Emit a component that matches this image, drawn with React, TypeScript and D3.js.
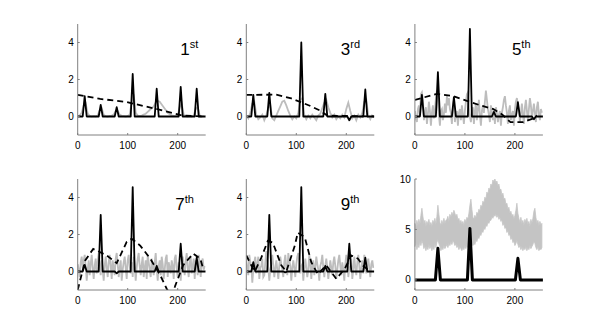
import React from "react";
import * as d3 from "d3";

// ticks
const xTicks = [0, 100, 200];
const yTicksSmall = [0, 2, 4];
const yTicksBig = [0, 5, 10];

// iteration labels
const labels = [
  ["1", "st"],
  ["3", "rd"],
  ["5", "th"],
  ["7", "th"],
  ["9", "th"],
];
const labelX = [205, 189, 194, 195, 189];

// spike locations and heights of the estimate, per iteration
const spikePos = [14, 46, 78, 110, 158, 206, 238];
const spikes1 = [1.1, 0.63, 0.5, 2.3, 1.5, 1.6, 1.5];
const spikes3 = [1.17, 1.28, 0, 4.0, 1.22, -0.2, 1.46];
const spikes5 = [1.17, 2.4, 1.05, 4.74, 0.25, 0.78, -0.15];
const spikes7 = [0.36, 3.06, -0.1, 4.56, 0.3, 1.5, 0.75];
const spikes9 = [0.5, 3.06, -0.05, 4.56, 0.3, 1.5, 0.75];

// true signal
const truePos = [46, 110, 206];
const trueHeights = [3.13, 5.1, 2.14];

// baseline estimates (dashed)
const dashed1 = [[0, 1.17], [45, 0.95], [98, 0.78], [151, 0.45], [191, 0.18], [210, 0.05], [256, 0]];
const dashed3 = [[0, 1.17], [60, 1.18], [90, 0.98], [127, 0.58], [147, 0.33], [162, 0.05], [256, 0]];
const dashed5 = [[0, 0.9], [44, 1.22], [77, 1.1], [104, 0.85], [131, 0.6], [157, 0.4], [175, 0.1], [191, -0.3], [217, -0.3], [237, -0.1], [244, 0.05]];
const dashed7 = [[0, -1.0], [15, 0.6], [31, 1.22], [58, 0.87], [78, 0.45], [98, 1.6], [108, 1.77], [125, 1.4], [145, 0.7], [165, -0.2], [178, -0.93], [186, -1.3], [194, -0.84], [211, 0.34], [231, 0.97], [245, 0.7], [251, 0.15]];
const dashed9 = [[0, 0.87], [10, 0.33], [17, 0], [30, 0.75], [43, 1.65], [53, 1.56], [70, 0.33], [80, 0], [97, 1.4], [103, 2.1], [117, 1.85], [130, 0.5], [143, -0.14], [160, 0.33], [180, -0.4], [197, 0.15], [210, 0.87], [223, 0.7], [233, 0.33], [247, 0]];

// residual data (grey); 1st and 3rd sampled every 4 points, the rest every 2
const grey1 = [0.02, 0.05, 0.2, 0.6, 0.7, 0.15, 0.03, 0, 0.02, 0, 0.05, 0.35, 0.45, 0.1, 0.02, 0, 0.03, 0.05, 0.1, 0.3, 0.3, 0.1, 0.04, 0.02, 0, 0.03, 0.1, 0.8, 1.2, 0.2, 0.05, 0.03, 0.05, 0.1, 0.15, 0.25, 0.35, 0.45, 0.55, 0.75, 0.85, 0.8, 0.65, 0.5, 0.35, 0.2, 0.12, 0.06, 0.03, 0.02, 0.05, 0.5, 0.7, 0.1, 0.02, 0, 0.02, 0, 0.05, 0.4, 0.5, 0.05, 0, 0.02];
const grey3 = [0.05, -0.1, 0.2, 0.7, 0.8, 0.1, -0.15, -0.05, 0.1, -0.2, 0.05, 0.5, 0.6, -0.1, -0.2, 0.05, 0.3, 0.55, 0.8, 0.85, 0.6, 0.3, 0.05, -0.15, 0, -0.1, 0.2, 0.9, 1.0, 0.1, -0.15, 0.05, -0.1, 0.1, -0.05, -0.2, 0.05, 0.15, 0.45, 0.75, 0.9, 0.5, 0.2, -0.05, 0.1, -0.15, 0, -0.1, 0.1, -0.05, 0.4, 0.75, 0.3, -0.1, 0.05, -0.2, 0.1, -0.05, 0.2, 0.8, 0.9, 0.05, -0.15, 0.1];
const grey5 = [
  0.3, -0.1, -0.3, 0.4, 0.6, 0.1, 1.2, 1.3, 0.9, -0.2, 0.2, 0.5, -0.4, 0.1, 0.8, 0.3,
  -0.5, 0.2, 0.6, -0.1, 0.3, 1.0, 1.4, 0.8, 0.1, -0.5, 0.3, 0.4, -0.2, 0.1, 0.7, 0.2,
  1.1, 0.6, 1.0, 0.4, 0.2, -0.4, 0.6, 0.9, -0.3, 0.1, 0.3, -0.5, 0.2, 0.4, -0.2, 0.6,
  0.1, -0.4, 0.3, 0.8, 1.2, 1.3, 0.5, 0.0, -0.3, 0.2, 0.5, -0.4, 0.3, 0.7, -0.2, 0.4,
  0.9, 0.1, -0.5, 0.3, 0.6, 0.2, 0.8, 1.4, 0.9, 0.4, 0.1, -0.3, 0.6, 0.2, -0.2, 0.4,
  -0.4, 0.5, 0.2, -0.3, 0.1, 0.3, -0.5, 0.2, 0.5, 0.9, 1.1, 0.6, 0.2, -0.4, 0.3, 0.6,
  -0.2, 0.1, 0.3, -0.5, 0.4, 0.8, 1.0, 0.6, 0.3, -0.3, 0.2, 0.7, 0.1, -0.4, 0.5, 0.9,
  0.3, -0.2, 0.4, 1.0, 0.6, -0.1, 0.3, 0.7, 0.2, -0.3, 0.5, 0.8, 0.1, -0.2, 0.4, 0.2,
];
const grey7 = [
  0.4, 0.1, -0.3, 0.5, 0.8, 0.2, 0.6, 0.9, 0.3, -0.5, 0.1, 0.6, -0.2, 0.4, 0.9, 0.2,
  -0.4, 0.3, 0.7, -0.1, 0.5, 1.0, 0.4, -0.2, 0.6, 0.1, -0.5, 0.3, 0.8, 0.2, -0.3, 0.5,
  0.9, 0.3, -0.4, 0.6, 0.2, -0.2, 0.7, 1.0, 0.4, -0.3, 0.2, 0.6, -0.5, 0.1, 0.5, 0.8,
  0.2, -0.4, 0.6, 0.9, 0.3, -0.1, 0.5, -0.3, 0.8, 0.4, -0.5, 0.2, 0.7, 1.0, 0.3, -0.2,
  0.4, 0.8, -0.3, 0.2, 0.6, -0.4, 0.9, 0.5, 0.1, -0.3, 0.7, 0.3, -0.2, 0.5, 1.0, 0.2,
  -0.5, 0.3, 0.6, -0.2, 0.8, 0.4, -0.4, 0.1, 0.7, 0.9, -0.3, 0.5, 0.2, -0.1, 0.6, 0.3,
  -0.4, 0.7, 0.9, 0.2, -0.3, 0.5, 0.1, -0.5, 0.4, 0.8, 0.3, -0.2, 0.6, 1.0, 0.2, -0.3,
  0.5, 0.8, -0.1, 0.3, 0.7, -0.4, 0.6, 0.2, -0.2, 0.9, 0.4, -0.3, 0.5, 0.7, 0.1, 0.3,
];
const grey9 = [
  0.6, 0.2, -0.2, 0.9, 0.5, 0.3, -0.6, 0.1, 0.5, 0.8, -0.1, 0.4, 0.8, -0.4, 0.2, 0.3,
  0.7, -0.3, -0.2, 0.5, 1.1, 0.6, 0.2, -0.5, 0.1, 0.4, 0.9, 0.3, -0.3, 0.2, 0.6, 0.1,
  -0.4, 0.3, 0.8, 0.4, 0.1, -0.3, 0.5, 0.9, 0.2, -0.2, 1.0, 0.6, 0.3, -0.5, 0.2, 0.6,
  0.2, -0.3, 0.4, 0.8, 1.0, 0.5, -0.1, 0.3, 0.4, -0.5, 0.2, 0.7, 0.2, -0.3, 0.1, 0.9,
  0.4, -0.4, 0.3, 0.6, -0.2, 0.2, 0.8, 0.4, 0.1, -0.5, 0.3, 0.5, 0.9, 0.2, -0.3, 0.3,
  0.7, 0.2, -0.4, 0.1, 0.6, 0.2, -0.2, 0.5, 0.8, 0.3, -0.4, 0.1, 0.6, 0.9, 0.3, -0.2,
  0.5, 0.1, -0.5, 0.4, 0.9, 0.6, -0.3, 0.2, 0.3, 0.7, -0.4, 0.1, 0.8, 0.2, -0.2, 0.5,
  0.9, 0.3, -0.4, 0.2, 0.6, -0.1, 0.9, 0.3, -0.1, 0.4, 0.7, 0.2, -0.3, 0.4, 0.6, 0.2,
];

// noisy observations envelope (last panel), every 2 points
const bandUpper = [
  5.6, 5.2, 5.9, 5.4, 6.0, 5.5, 6.4, 7.1, 6.3, 5.6, 5.9, 5.3, 5.8, 5.5, 6.0, 5.4,
  5.7, 5.3, 5.9, 5.6, 6.1, 5.5, 6.3, 7.4, 6.5, 5.7, 5.4, 5.9, 5.5, 6.1, 5.6, 5.9,
  6.0, 6.3, 5.8, 6.5, 6.2, 6.7, 6.4, 6.9, 6.6, 6.3, 6.5, 5.9, 6.1, 5.6, 5.9, 5.5,
  5.8, 5.4, 6.0, 5.7, 6.2, 6.0, 6.6, 7.4, 8.0, 7.0, 6.2, 6.0, 6.4, 6.1, 6.7, 6.5,
  7.0, 6.8, 7.4, 7.2, 7.8, 7.6, 8.2, 8.0, 8.7, 8.5, 9.1, 8.9, 9.5, 9.3, 9.9, 9.7,
  10.0, 9.6, 9.8, 9.3, 9.5, 8.9, 9.0, 8.4, 8.6, 8.0, 8.1, 7.5, 7.6, 7.0, 7.2, 6.6,
  6.8, 6.3, 6.5, 6.0, 6.4, 6.9, 7.6, 6.6, 6.1, 5.7, 6.2, 5.6, 5.9, 5.4, 6.0, 5.7,
  6.1, 5.5, 5.8, 5.3, 6.0, 5.6, 6.1, 6.8, 7.1, 6.2, 5.6, 5.9, 5.4, 5.8, 5.5, 5.6,
];
const bandLower = [
  3.3, 3.7, 3.0, 3.5, 3.2, 3.8, 3.4, 3.9, 3.6, 3.1, 3.4, 2.9, 3.3, 3.0, 3.5, 3.1,
  3.4, 2.9, 3.3, 3.0, 3.6, 3.2, 3.7, 4.0, 3.6, 3.3, 2.9, 3.2, 3.0, 3.4, 3.1, 3.3,
  3.5, 3.2, 3.6, 3.4, 3.8, 3.5, 3.9, 3.7, 3.4, 3.6, 3.2, 3.4, 3.0, 3.3, 3.1, 2.9,
  3.2, 3.0, 3.4, 3.1, 3.5, 3.2, 3.7, 4.0, 4.2, 3.8, 3.4, 3.6, 3.5, 3.9, 3.8, 4.2,
  4.1, 4.5, 4.4, 4.8, 4.7, 5.1, 5.0, 5.4, 5.3, 5.7, 5.6, 5.9, 5.9, 6.2, 6.1, 6.4,
  6.3, 6.5, 6.2, 6.4, 6.0, 6.2, 5.8, 5.9, 5.4, 5.6, 5.1, 5.2, 4.7, 4.9, 4.4, 4.5,
  4.0, 4.2, 3.7, 3.8, 3.4, 3.6, 3.9, 3.5, 3.2, 3.4, 3.0, 3.3, 2.9, 3.2, 3.0, 3.3,
  2.9, 3.2, 3.0, 3.4, 3.1, 3.3, 3.5, 3.8, 3.6, 3.2, 3.0, 3.3, 2.9, 3.1, 3.0, 3.2,
];
const bandStep = 2;

const colLeft = [77.7, 246.3, 414.9];
const rowTop = [24, 179];
const plotW = 128;
const plotH = 111;
const font = "'Liberation Sans', Arial, Helvetica, sans-serif";

const stemLine = (pos, heights, half) => {
  const pts = [[0, 0]];
  pos.forEach((p, i) => {
    pts.push([p - half, 0], [p, heights[i]], [p + half, 0]);
  });
  pts.push([256, 0]);
  return pts;
};

const panels = [
  { grey: grey1, step: 4, spikes: spikes1, dashed: dashed1, label: labels[0], lx: labelX[0] },
  { grey: grey3, step: 4, spikes: spikes3, dashed: dashed3, label: labels[1], lx: labelX[1] },
  { grey: grey5, step: 2, spikes: spikes5, dashed: dashed5, label: labels[2], lx: labelX[2] },
  { grey: grey7, step: 2, spikes: spikes7, dashed: dashed7, label: labels[3], lx: labelX[3] },
  { grey: grey9, step: 2, spikes: spikes9, dashed: dashed9, label: labels[4], lx: labelX[4] },
  { band: true },
];

const Panel = ({ p, idx }) => {
  const left = colLeft[idx % 3];
  const top = rowTop[Math.floor(idx / 3)];
  const big = !!p.band;

  const xScale = d3.scaleLinear().domain([0, 256]).range([0, plotW]);
  const yScale = d3
    .scaleLinear()
    .domain(big ? [-1, 10] : [-1, 5])
    .range([plotH, 0]);
  const yTicks = big ? yTicksBig : yTicksSmall;

  const line = d3
    .line()
    .x(d => xScale(d[0]))
    .y(d => yScale(d[1]));

  const clipId = `clip${idx}`;

  let content;
  if (big) {
    const area = d3
      .area()
      .x((d, i) => xScale(i * bandStep))
      .y0((d, i) => yScale(bandLower[i]))
      .y1(d => yScale(d));
    content = (
      <g>
        <path d={area(bandUpper)} fill="#c4c4c4" stroke="#c4c4c4" strokeWidth={0.8} />
        <path
          d={line(stemLine(truePos, trueHeights, 5))}
          fill="none"
          stroke="#000"
          strokeWidth={3}
          strokeLinejoin="round"
        />
      </g>
    );
  } else {
    const greyPts = p.grey.map((v, i) => [i * p.step, v]);
    content = (
      <g clipPath={`url(#${clipId})`}>
        <path d={line(greyPts)} fill="none" stroke="#bdbdbd" strokeWidth={1.8} />
        <path
          d={line(stemLine(spikePos, p.spikes, 4))}
          fill="none"
          stroke="#000"
          strokeWidth={1.8}
          strokeLinejoin="round"
        />
        <path
          d={line(p.dashed)}
          fill="none"
          stroke="#000"
          strokeWidth={1.8}
          strokeDasharray="6,4"
        />
      </g>
    );
  }

  return (
    <g transform={`translate(${left}, ${top})`}>
      <defs>
        <clipPath id={clipId}>
          <rect x={0} y={0} width={plotW} height={plotH} />
        </clipPath>
      </defs>
      {content}
      {/* axes */}
      <line x1={0} x2={0} y1={0} y2={plotH} stroke="#808080" strokeWidth={1} />
      <line x1={0} x2={plotW} y1={plotH} y2={plotH} stroke="#808080" strokeWidth={1} />
      {xTicks.map(t => (
        <g key={"x" + t} transform={`translate(${xScale(t)}, ${plotH})`}>
          <line y1={0} y2={-2} stroke="#808080" />
          <text y={13.5} textAnchor="middle" fontSize={10} fontFamily={font} fill="#000">
            {t}
          </text>
        </g>
      ))}
      {yTicks.map(t => (
        <g key={"y" + t} transform={`translate(0, ${yScale(t)})`}>
          <line x1={0} x2={2} stroke="#808080" />
          <text x={-4} dy="0.35em" textAnchor="end" fontSize={10} fontFamily={font} fill="#000">
            {t}
          </text>
        </g>
      ))}
      {p.label && (
        <text x={xScale(p.lx)} y={yScale(3.3)} fontSize={17} fontFamily={font} fill="#000">
          {p.label[0]}
          <tspan fontSize={11} dy={-7}>
            {p.label[1]}
          </tspan>
        </text>
      )}
    </g>
  );
};

export default function App() {
  return (
    <svg
      width={599}
      height={327}
      style={{ position: "absolute", left: 0, top: 0, background: "#fff" }}
    >
      <rect width={599} height={327} fill="#fff" />
      {panels.map((p, i) => (
        <Panel key={i} p={p} idx={i} />
      ))}
    </svg>
  );
}
